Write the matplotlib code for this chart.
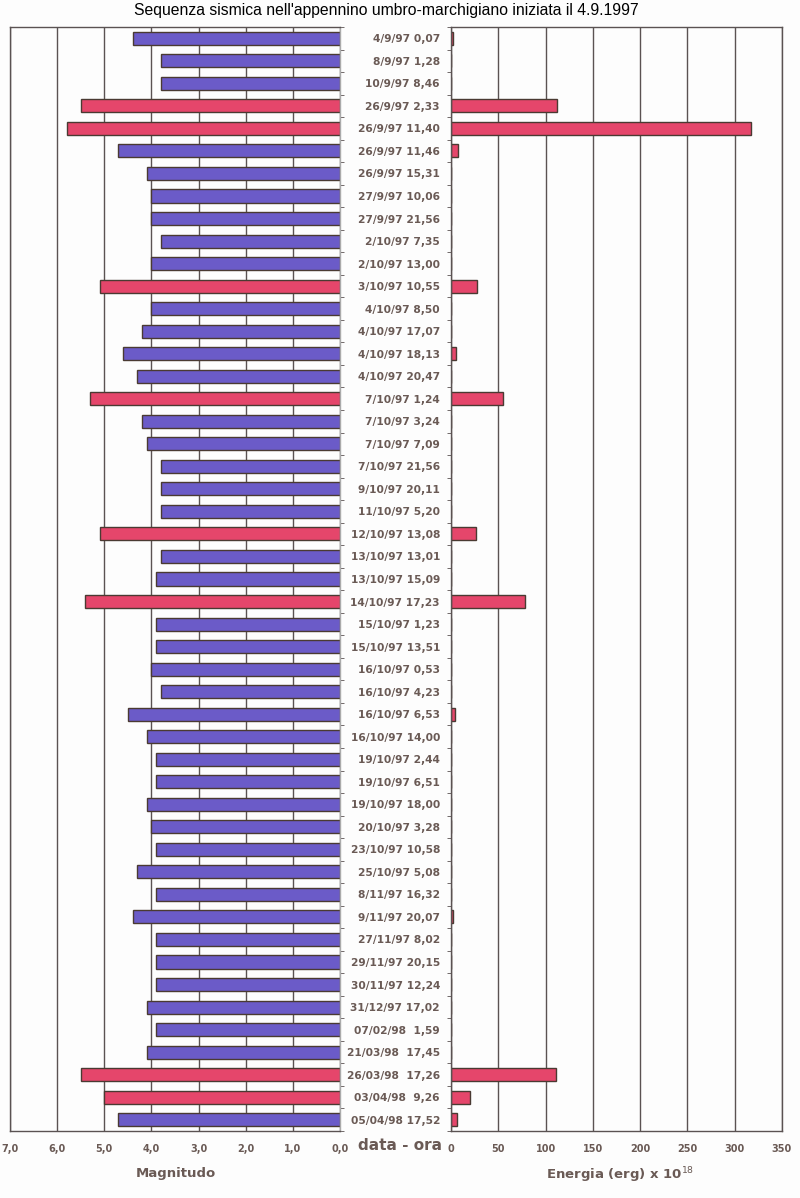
import matplotlib
matplotlib.use("Agg")
import matplotlib.pyplot as plt
import numpy as np
from matplotlib.ticker import FuncFormatter

# eventi: data - ora
eventi = ["4/9/97 0,07", "8/9/97 1,28", "10/9/97 8,46", "26/9/97 2,33",
          "26/9/97 11,40", "26/9/97 11,46", "26/9/97 15,31", "27/9/97 10,06",
          "27/9/97 21,56", "2/10/97 7,35", "2/10/97 13,00", "3/10/97 10,55",
          "4/10/97 8,50", "4/10/97 17,07", "4/10/97 18,13", "4/10/97 20,47",
          "7/10/97 1,24", "7/10/97 3,24", "7/10/97 7,09", "7/10/97 21,56",
          "9/10/97 20,11", "11/10/97 5,20", "12/10/97 13,08", "13/10/97 13,01",
          "13/10/97 15,09", "14/10/97 17,23", "15/10/97 1,23", "15/10/97 13,51",
          "16/10/97 0,53", "16/10/97 4,23", "16/10/97 6,53", "16/10/97 14,00",
          "19/10/97 2,44", "19/10/97 6,51", "19/10/97 18,00", "20/10/97 3,28",
          "23/10/97 10,58", "25/10/97 5,08", "8/11/97 16,32", "9/11/97 20,07",
          "27/11/97 8,02", "29/11/97 20,15", "30/11/97 12,24", "31/12/97 17,02",
          "07/02/98  1,59", "21/03/98  17,45", "26/03/98  17,26", "03/04/98  9,26",
          "05/04/98 17,52"]

magnitudo = [4.4, 3.8, 3.8, 5.5, 5.8, 4.7, 4.1, 4.0,
             4.0, 3.8, 4.0, 5.1, 4.0, 4.2, 4.6, 4.3,
             5.3, 4.2, 4.1, 3.8, 3.8, 3.8, 5.1, 3.8,
             3.9, 5.4, 3.9, 3.9, 4.0, 3.8, 4.5, 4.1,
             3.9, 3.9, 4.1, 4.0, 3.9, 4.3, 3.9, 4.4,
             3.9, 3.9, 3.9, 4.1, 3.9, 4.1, 5.5, 5.0,
             4.7]

energia = [2.5, 0, 0, 112, 317, 7, 0, 0,
           0, 0, 0, 27, 0, 0, 5, 0,
           55, 0, 0, 0, 0, 0, 26, 0,
           0, 78, 0, 0, 0, 0, 4, 0,
           0, 0, 0, 0, 0, 0, 0, 2.5,
           0, 0, 0, 0, 0, 0, 111, 20,
           6.5]

viola = '#6b5bc8'
rosso = '#e5466b'
bordo = '#4a3a32'
testo = '#6a5a55'
griglia = '#5a5252'

n = len(eventi)
y = np.arange(n)
colori = [rosso if m >= 5.0 else viola for m in magnitudo]

fig = plt.figure(figsize=(8, 11.98), dpi=100)
fig.patch.set_facecolor('#fdfdfd')

axL = fig.add_axes([10/800, 67/1198, 330/800, 1104/1198])
axR = fig.add_axes([451/800, 67/1198, 331/800, 1104/1198])

for ax in (axL, axR):
    ax.set_facecolor('#fdfdfd')
    ax.set_ylim(n - 0.5, -0.38)
    ax.grid(True, axis='x', color=griglia, lw=1.0)
    ax.set_axisbelow(True)
    for s in ax.spines.values():
        s.set_color(griglia)
        s.set_linewidth(1.0)
    ax.tick_params(axis='x', length=0, pad=9, labelsize=7, labelcolor=testo)

# magnitudo (asse invertito)
axL.barh(y, magnitudo, height=0.58, color=colori, edgecolor=bordo, linewidth=1.0)
axL.set_xlim(7, 0)
axL.set_xticks(np.arange(0, 8, 1))
axL.xaxis.set_major_formatter(FuncFormatter(lambda v, p: f"{v:.1f}".replace('.', ',')))
axL.set_yticks([])
axL.set_yticks(np.arange(-0.5, n, 1), minor=True)
axL.tick_params(axis='y', which='minor', direction='out', left=False, right=True,
                length=3, color=griglia)
axL.spines['right'].set_color('#aaaaaa')

# energia
axR.barh(y, energia, height=0.58, color=rosso, edgecolor=bordo, linewidth=1.0)
axR.set_xlim(0, 350)
axR.set_xticks(np.arange(0, 351, 50))
axR.set_yticks(y)
axR.set_yticklabels(eventi)
axR.tick_params(axis='y', which='major', length=0, pad=8, labelsize=7.7, labelcolor=testo)
for t in axR.get_yticklabels():
    t.set_fontweight('bold')
axR.set_yticks(np.arange(-0.5, n, 1), minor=True)
axR.tick_params(axis='y', which='minor', direction='out', length=3, color=griglia)

for ax in (axL, axR):
    for t in ax.get_xticklabels():
        t.set_fontweight('bold')

fig.text(386/800, 1 - 11/1198, "Sequenza sismica nell'appennino umbro-marchigiano iniziata il 4.9.1997",
         ha='center', va='center', fontsize=11.3, family='Liberation Sans')
fig.text(400/800, 1 - 1145/1198, "data - ora", ha='center', va='center',
         fontsize=11, fontweight='bold', color=testo)
fig.text(176/800, 1 - 1173/1198, "Magnitudo", ha='center', va='center',
         fontsize=9.5, fontweight='bold', color=testo)
fig.text(620/800, 1 - 1175/1198, "Energia (erg) x 10$^{18}$", ha='center', va='center',
         fontsize=9.5, fontweight='bold', color=testo)

fig.savefig('out.png', dpi=100, facecolor=fig.get_facecolor())
